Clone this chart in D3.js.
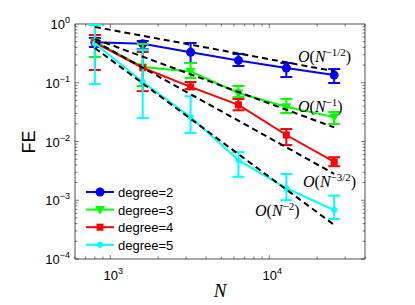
<!DOCTYPE html>
<html lang="en">
<head>
<meta charset="UTF-8">
<title>FE vs N</title>
<script src="https://d3js.org/d3.v7.min.js"></script>
<style>
  body { margin: 0; background: #fff; }
  text { font-family: "Liberation Sans", Arial, sans-serif; }
  .math { font-family: "Liberation Serif", "Times New Roman", serif; }
</style>
</head>
<body>
<div id="chart"></div>
<script>
// sample sizes
var N = [800, 1600, 3200, 6400, 12800, 25600]

// mean error and error bar ends per degree
var deg2 = [0.49, 0.46, 0.33, 0.24, 0.178, 0.135]
var deg2Lo = [0.406, 0.37, 0.217, 0.193, 0.125, 0.099]
var deg2Hi = [0.578, 0.514, 0.475, 0.309, 0.217, 0.171]

var deg3 = [0.50, 0.186, 0.155, 0.067, 0.039, 0.026]
var deg3Lo = [0.274, 0.088, 0.12, 0.057, 0.0306, 0.0199]
var deg3Hi = [0.96, 0.457, 0.217, 0.088, 0.053, 0.0318]

var deg4 = [0.48, 0.18, 0.085, 0.042, 0.0129, 0.0045]
var deg4Lo = [0.165, 0.072, 0.078, 0.034, 0.0087, 0.0038]
var deg4Hi = [0.65, 0.334, 0.103, 0.053, 0.0163, 0.0054]

var deg5 = [0.47, 0.103, 0.026, 0.0048, 0.0016, 0.00068]
var deg5Lo = [0.095, 0.025, 0.014, 0.0025, 0.001, 0.00048]
var deg5Hi = [0.96, 0.36, 0.059, 0.0066, 0.0028, 0.0012]

// reference slopes: value at N=800 and exponent
var refStart = [0.89, 0.556, 0.51, 0.39]
var refPow = [-0.5, -1, -1.5, -2]
var refSup = ["\u22121/2", "\u22121", "\u22123/2", "\u22122"]

var yTicks = [1, 0.1, 0.01, 0.001, 0.0001]
var yExp = ["0", "\u22121", "\u22122", "\u22123", "\u22124"]
var xTicks = [1000, 10000]
var xExp = ["3", "4"]

var width = 415, height = 305
var pL = 75, pR = 365, pT = 24, pB = 259

var svg = d3.select("#chart").append("svg")
    .attr("width", width)
    .attr("height", height)

var x = d3.scaleLog().domain([600, 40000]).range([pL, pR])
var y = d3.scaleLog().domain([1e-4, 1]).range([pB, pT])

// minor ticks
var xMinor = []
for (var e = 2; e <= 4; e++) for (var k = 1; k < 10; k++) {
    var v = k * Math.pow(10, e)
    if (v >= 600 && v <= 40000) xMinor.push(v)
}
var yMinor = []
for (var e = -4; e < 0; e++) for (var k = 1; k < 10; k++) yMinor.push(k * Math.pow(10, e))

var ax = svg.append("g").attr("stroke", "#262626").attr("stroke-width", 0.6)
xMinor.forEach(function(v) {
    var big = xTicks.indexOf(v) >= 0
    var l = big ? 4 : 2.5
    ax.append("line").attr("x1", x(v)).attr("x2", x(v)).attr("y1", pB).attr("y2", pB - l)
    ax.append("line").attr("x1", x(v)).attr("x2", x(v)).attr("y1", pT).attr("y2", pT + l)
})
yMinor.forEach(function(v, i) {
    var big = i % 9 == 0
    var l = big ? 4 : 2.5
    ax.append("line").attr("y1", y(v)).attr("y2", y(v)).attr("x1", pL).attr("x2", pL + l)
    ax.append("line").attr("y1", y(v)).attr("y2", y(v)).attr("x1", pR).attr("x2", pR - l)
})
svg.append("rect")
    .attr("x", pL).attr("y", pT)
    .attr("width", pR - pL).attr("height", pB - pT)
    .attr("fill", "none").attr("stroke", "#262626").attr("stroke-width", 0.8)

// tick labels
yTicks.forEach(function(v, i) {
    var t = svg.append("text")
        .attr("x", 70).attr("y", y(v) + 5)
        .attr("text-anchor", "end")
        .attr("font-size", 13)
    t.append("tspan").text("10")
    t.append("tspan").attr("font-size", 9).attr("dy", -6).text(yExp[i])
})
xTicks.forEach(function(v, i) {
    var t = svg.append("text")
        .attr("x", x(v) + 3).attr("y", 280)
        .attr("text-anchor", "middle")
        .attr("font-size", 13)
    t.append("tspan").text("10")
    t.append("tspan").attr("font-size", 9).attr("dy", -6).text(xExp[i])
})

svg.append("text")
    .attr("transform", "translate(35,142) rotate(-90)")
    .attr("text-anchor", "middle")
    .attr("font-size", 18)
    .text("FE")
svg.append("text")
    .attr("class", "math")
    .attr("x", 220).attr("y", 297)
    .attr("text-anchor", "middle")
    .attr("font-size", 19)
    .attr("font-style", "italic")
    .text("N")

var series = [
    { name: "degree=2", color: "#0000ff", v: deg2, lo: deg2Lo, hi: deg2Hi, marker: "circle" },
    { name: "degree=3", color: "#00ff00", v: deg3, lo: deg3Lo, hi: deg3Hi, marker: "tri" },
    { name: "degree=4", color: "#ff0000", v: deg4, lo: deg4Lo, hi: deg4Hi, marker: "square" },
    { name: "degree=5", color: "#00ffff", v: deg5, lo: deg5Lo, hi: deg5Hi, marker: "dot" }
]

function marker(g, kind, cx, cy, color) {
    if (kind == "circle") {
        g.append("circle").attr("cx", cx).attr("cy", cy).attr("r", 4.5).attr("fill", color)
    } else if (kind == "tri") {
        g.append("path")
            .attr("d", "M" + (cx - 5) + "," + (cy - 3.5) + "L" + (cx + 5) + "," + (cy - 3.5) + "L" + cx + "," + (cy + 5) + "Z")
            .attr("fill", color)
    } else if (kind == "square") {
        g.append("rect").attr("x", cx - 3.5).attr("y", cy - 3.5).attr("width", 7).attr("height", 7).attr("fill", color)
    } else {
        g.append("circle").attr("cx", cx).attr("cy", cy).attr("r", 3).attr("fill", color)
    }
}

var line = d3.line()
    .x(function(d) { return x(d[0]) })
    .y(function(d) { return y(d[1]) })

var plot = svg.append("g")
series.forEach(function(s) {
    var g = plot.append("g")
    N.forEach(function(n, i) {
        var px = x(n)
        g.append("line").attr("x1", px).attr("x2", px)
            .attr("y1", y(s.lo[i])).attr("y2", y(s.hi[i]))
            .attr("stroke", s.color).attr("stroke-width", 2)
        ;[s.lo[i], s.hi[i]].forEach(function(b) {
            g.append("line").attr("x1", px - 6).attr("x2", px + 6)
                .attr("y1", y(b)).attr("y2", y(b))
                .attr("stroke", s.color).attr("stroke-width", 2)
        })
    })
    g.append("path")
        .datum(N.map(function(n, i) { return [n, s.v[i]] }))
        .attr("d", line)
        .attr("fill", "none")
        .attr("stroke", s.color)
        .attr("stroke-width", 2)
    N.forEach(function(n, i) { marker(g, s.marker, x(n), y(s.v[i]), s.color) })
})

// reference slope lines
refStart.forEach(function(c, j) {
    var pts = [N[0], N[N.length - 1]].map(function(n) {
        return [n, c * Math.pow(n / N[0], refPow[j])]
    })
    plot.append("path")
        .datum(pts)
        .attr("d", line)
        .attr("fill", "none")
        .attr("stroke", "#000")
        .attr("stroke-width", 2)
        .attr("stroke-dasharray", "6,4")
})

// slope labels
var labPos = [[298, 62], [298, 112], [303, 187], [255, 216]]
labPos.forEach(function(p, j) {
    var t = svg.append("text")
        .attr("class", "math")
        .attr("x", p[0]).attr("y", p[1])
        .attr("font-size", 16)
    t.append("tspan").attr("font-style", "italic").text("O")
    t.append("tspan").text("(")
    t.append("tspan").attr("font-style", "italic").text("N")
    t.append("tspan").attr("font-size", 11).attr("dy", -6).text(refSup[j])
    t.append("tspan").attr("dy", 6).text(")")
})

// legend
var leg = svg.append("g")
series.forEach(function(s, i) {
    var ly = 192 + i * 17.6
    leg.append("line").attr("x1", 86).attr("x2", 114).attr("y1", ly).attr("y2", ly)
        .attr("stroke", s.color).attr("stroke-width", 2)
    marker(leg, s.marker, 100, ly, s.color)
    leg.append("text").attr("x", 118).attr("y", ly + 5)
        .attr("font-size", 13).text(s.name)
})
</script>
</body>
</html>
